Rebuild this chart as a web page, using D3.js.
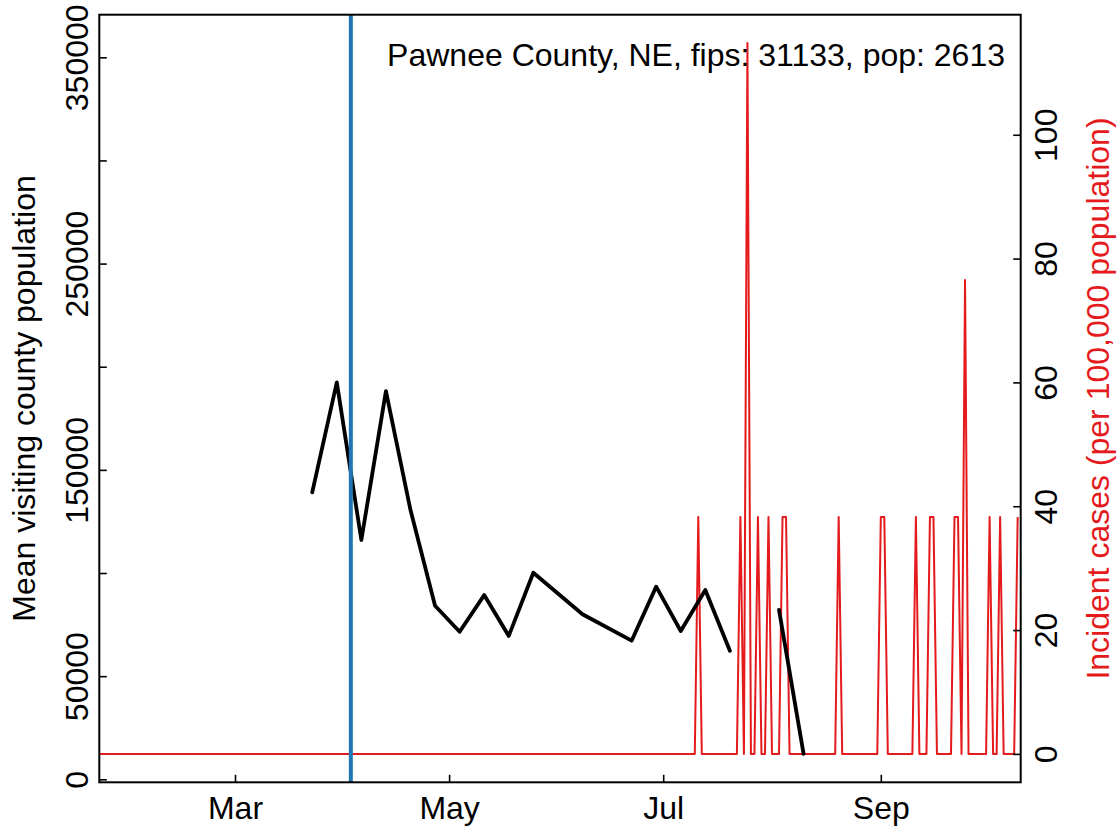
<!DOCTYPE html>
<html>
<head>
<meta charset="utf-8">
<script src="https://cdn.jsdelivr.net/npm/d3@7"></script>
<style>
  html, body { margin: 0; padding: 0; background: #fff; }
  svg { display: block; font-family: "Liberation Sans", Arial, Helvetica, sans-serif; }
</style>
</head>
<body>
<svg id="chart" width="1119" height="826"></svg>
<script>
// ---------------- data ----------------
const titleText = "Pawnee County, NE, fips: 31133, pop: 2613";
const leftAxisTitle = "Mean visiting county population";
const rightAxisTitle = "Incident cases (per 100,000 population)";

// Mean visiting county population (weekly; null = missing)
const visitDates = ["2020-03-23","2020-03-30","2020-04-06","2020-04-13","2020-04-20","2020-04-27",
  "2020-05-04","2020-05-11","2020-05-18","2020-05-25","2020-06-08","2020-06-22","2020-06-29",
  "2020-07-06","2020-07-13","2020-07-20","2020-07-27","2020-08-03","2020-08-10"];
const visitValues = [139100, 192400, 116000, 188200, 130500, 84100,
  71500, 89300, 69500, 100100, 80000, 67200, 93400,
  71900, 91800, 62300, null, 82100, 12300];

// Daily incident cases per 100,000 (all days between start and end are 0 except these)
const caseStart = "2020-01-22";
const caseEnd = "2020-10-10";
const caseDates = ["2020-07-11","2020-07-23","2020-07-25","2020-07-28","2020-07-31","2020-08-04",
  "2020-08-05","2020-08-20","2020-09-01","2020-09-02","2020-09-11","2020-09-15","2020-09-16",
  "2020-09-22","2020-09-23","2020-09-25","2020-10-02","2020-10-05","2020-10-10"];
const caseValues = [38.27, 38.27, 114.81, 38.27, 38.27, 38.27,
  38.27, 38.27, 38.27, 38.27, 38.27, 38.27, 38.27,
  38.27, 38.27, 76.54, 38.27, 38.27, 38.27];

// Vertical marker
const markerDate = "2020-04-03";

// Axis ticks
const xTickDates = ["2020-03-01","2020-05-01","2020-07-01","2020-09-01"];
const xTickLabels = ["Mar","May","Jul","Sep"];
const leftTicks = [0, 50000, 100000, 150000, 200000, 250000, 300000, 350000];
const leftTickLabels = ["0","50000","","150000","","250000","","350000"];
const rightTicks = [0, 20, 40, 60, 80, 100];
const rightTickLabels = ["0","20","40","60","80","100"];

// ---------------- layout ----------------
const plot = { left: 99.3, right: 1020.7, top: 14.7, bottom: 782.3 };
const FONT = 32;
const RED = "#e41a1c";
const BLUE = "#1f78b4";

const parse = d3.utcParse("%Y-%m-%d");

const x = d3.scaleUtc()
  .domain([new Date(Date.UTC(2020, 0, 22, 8, 0)), new Date(Date.UTC(2020, 9, 10, 20, 40))])
  .range([plot.left, plot.right]);
const yL = d3.scaleLinear().domain([-1454, 370650]).range([plot.bottom, plot.top]);
const yR = d3.scaleLinear().domain([-4.59, 119.39]).range([plot.bottom, plot.top]);

// build daily case series
const spikeMap = new Map(caseDates.map((d, i) => [d, caseValues[i]]));
const fmt = d3.utcFormat("%Y-%m-%d");
const caseSeries = d3.utcDay.range(parse(caseStart), d3.utcDay.offset(parse(caseEnd), 1))
  .map(d => ({ date: d, value: spikeMap.has(fmt(d)) ? spikeMap.get(fmt(d)) : 0 }));

const visitSeries = visitDates.map((d, i) => ({ date: parse(d), value: visitValues[i] }));

const svg = d3.select("#chart");

svg.append("defs").append("clipPath").attr("id", "clip")
  .append("rect")
  .attr("x", plot.left).attr("y", plot.top)
  .attr("width", plot.right - plot.left).attr("height", plot.bottom - plot.top);

const g = svg.append("g").attr("clip-path", "url(#clip)");

// red cases line
g.append("path")
  .datum(caseSeries)
  .attr("fill", "none")
  .attr("stroke", RED)
  .attr("stroke-width", 2)
  .attr("stroke-linejoin", "round")
  .attr("d", d3.line().x(d => x(d.date)).y(d => yR(d.value)));

// black visiting line
g.append("path")
  .datum(visitSeries)
  .attr("fill", "none")
  .attr("stroke", "#000")
  .attr("stroke-width", 3.8)
  .attr("stroke-linejoin", "round")
  .attr("stroke-linecap", "round")
  .attr("d", d3.line().defined(d => d.value !== null).x(d => x(d.date)).y(d => yL(d.value)));

// blue vertical line
g.append("line")
  .attr("x1", x(parse(markerDate))).attr("x2", x(parse(markerDate)))
  .attr("y1", plot.top).attr("y2", plot.bottom)
  .attr("stroke", BLUE).attr("stroke-width", 4);

// ---------------- axes ----------------
const TICK = 7.5;
// bottom axis (ticks inward)
const xAxis = d3.axisBottom(x)
  .tickValues(xTickDates.map(parse))
  .tickFormat((d, i) => xTickLabels[i])
  .tickSizeInner(-TICK).tickSizeOuter(0).tickPadding(0);
const gx = svg.append("g").attr("transform", `translate(0,${plot.bottom})`).call(xAxis);
gx.select(".domain").remove();
gx.selectAll(".tick line").attr("stroke", "#000").attr("stroke-width", 1.6);
gx.selectAll(".tick text")
  .attr("y", 37).attr("dy", null)
  .attr("font-size", FONT).attr("font-family", "Liberation Sans, Arial, sans-serif")
  .attr("fill", "#000");

// left axis
const yAxisL = d3.axisLeft(yL)
  .tickValues(leftTicks)
  .tickFormat((d, i) => leftTickLabels[i])
  .tickSizeInner(-TICK).tickSizeOuter(0);
const gl = svg.append("g").attr("transform", `translate(${plot.left},0)`).call(yAxisL);
gl.select(".domain").remove();
gl.selectAll(".tick line").attr("stroke", "#000").attr("stroke-width", 1.6);
gl.selectAll(".tick text")
  .attr("x", null).attr("dy", null)
  .attr("transform", "translate(-11,0) rotate(-90)")
  .attr("text-anchor", "middle")
  .attr("font-size", FONT).attr("font-family", "Liberation Sans, Arial, sans-serif")
  .attr("fill", "#000");

// right axis
const yAxisR = d3.axisRight(yR)
  .tickValues(rightTicks)
  .tickFormat((d, i) => rightTickLabels[i])
  .tickSizeInner(-TICK).tickSizeOuter(0);
const gr = svg.append("g").attr("transform", `translate(${plot.right},0)`).call(yAxisR);
gr.select(".domain").remove();
gr.selectAll(".tick line").attr("stroke", "#000").attr("stroke-width", 1.6);
gr.selectAll(".tick text")
  .attr("x", null).attr("dy", null)
  .attr("transform", "translate(36.5,0) rotate(-90)")
  .attr("text-anchor", "middle")
  .attr("font-size", FONT).attr("font-family", "Liberation Sans, Arial, sans-serif")
  .attr("fill", "#000");

// box
svg.append("rect")
  .attr("x", plot.left).attr("y", plot.top)
  .attr("width", plot.right - plot.left).attr("height", plot.bottom - plot.top)
  .attr("fill", "none").attr("stroke", "#000").attr("stroke-width", 2);

// axis titles
const midY = (plot.top + plot.bottom) / 2;
svg.append("text")
  .attr("transform", `translate(35,${midY}) rotate(-90)`)
  .attr("text-anchor", "middle")
  .attr("font-size", FONT).attr("fill", "#000")
  .text(leftAxisTitle);
svg.append("text")
  .attr("transform", `translate(1108.5,${midY}) rotate(-90)`)
  .attr("text-anchor", "middle")
  .attr("font-size", FONT).attr("fill", RED)
  .text(rightAxisTitle);

// top-right label
svg.append("text")
  .attr("x", 1005).attr("y", 66)
  .attr("text-anchor", "end")
  .attr("font-size", FONT).attr("fill", "#000")
  .text(titleText);
</script>
</body>
</html>
